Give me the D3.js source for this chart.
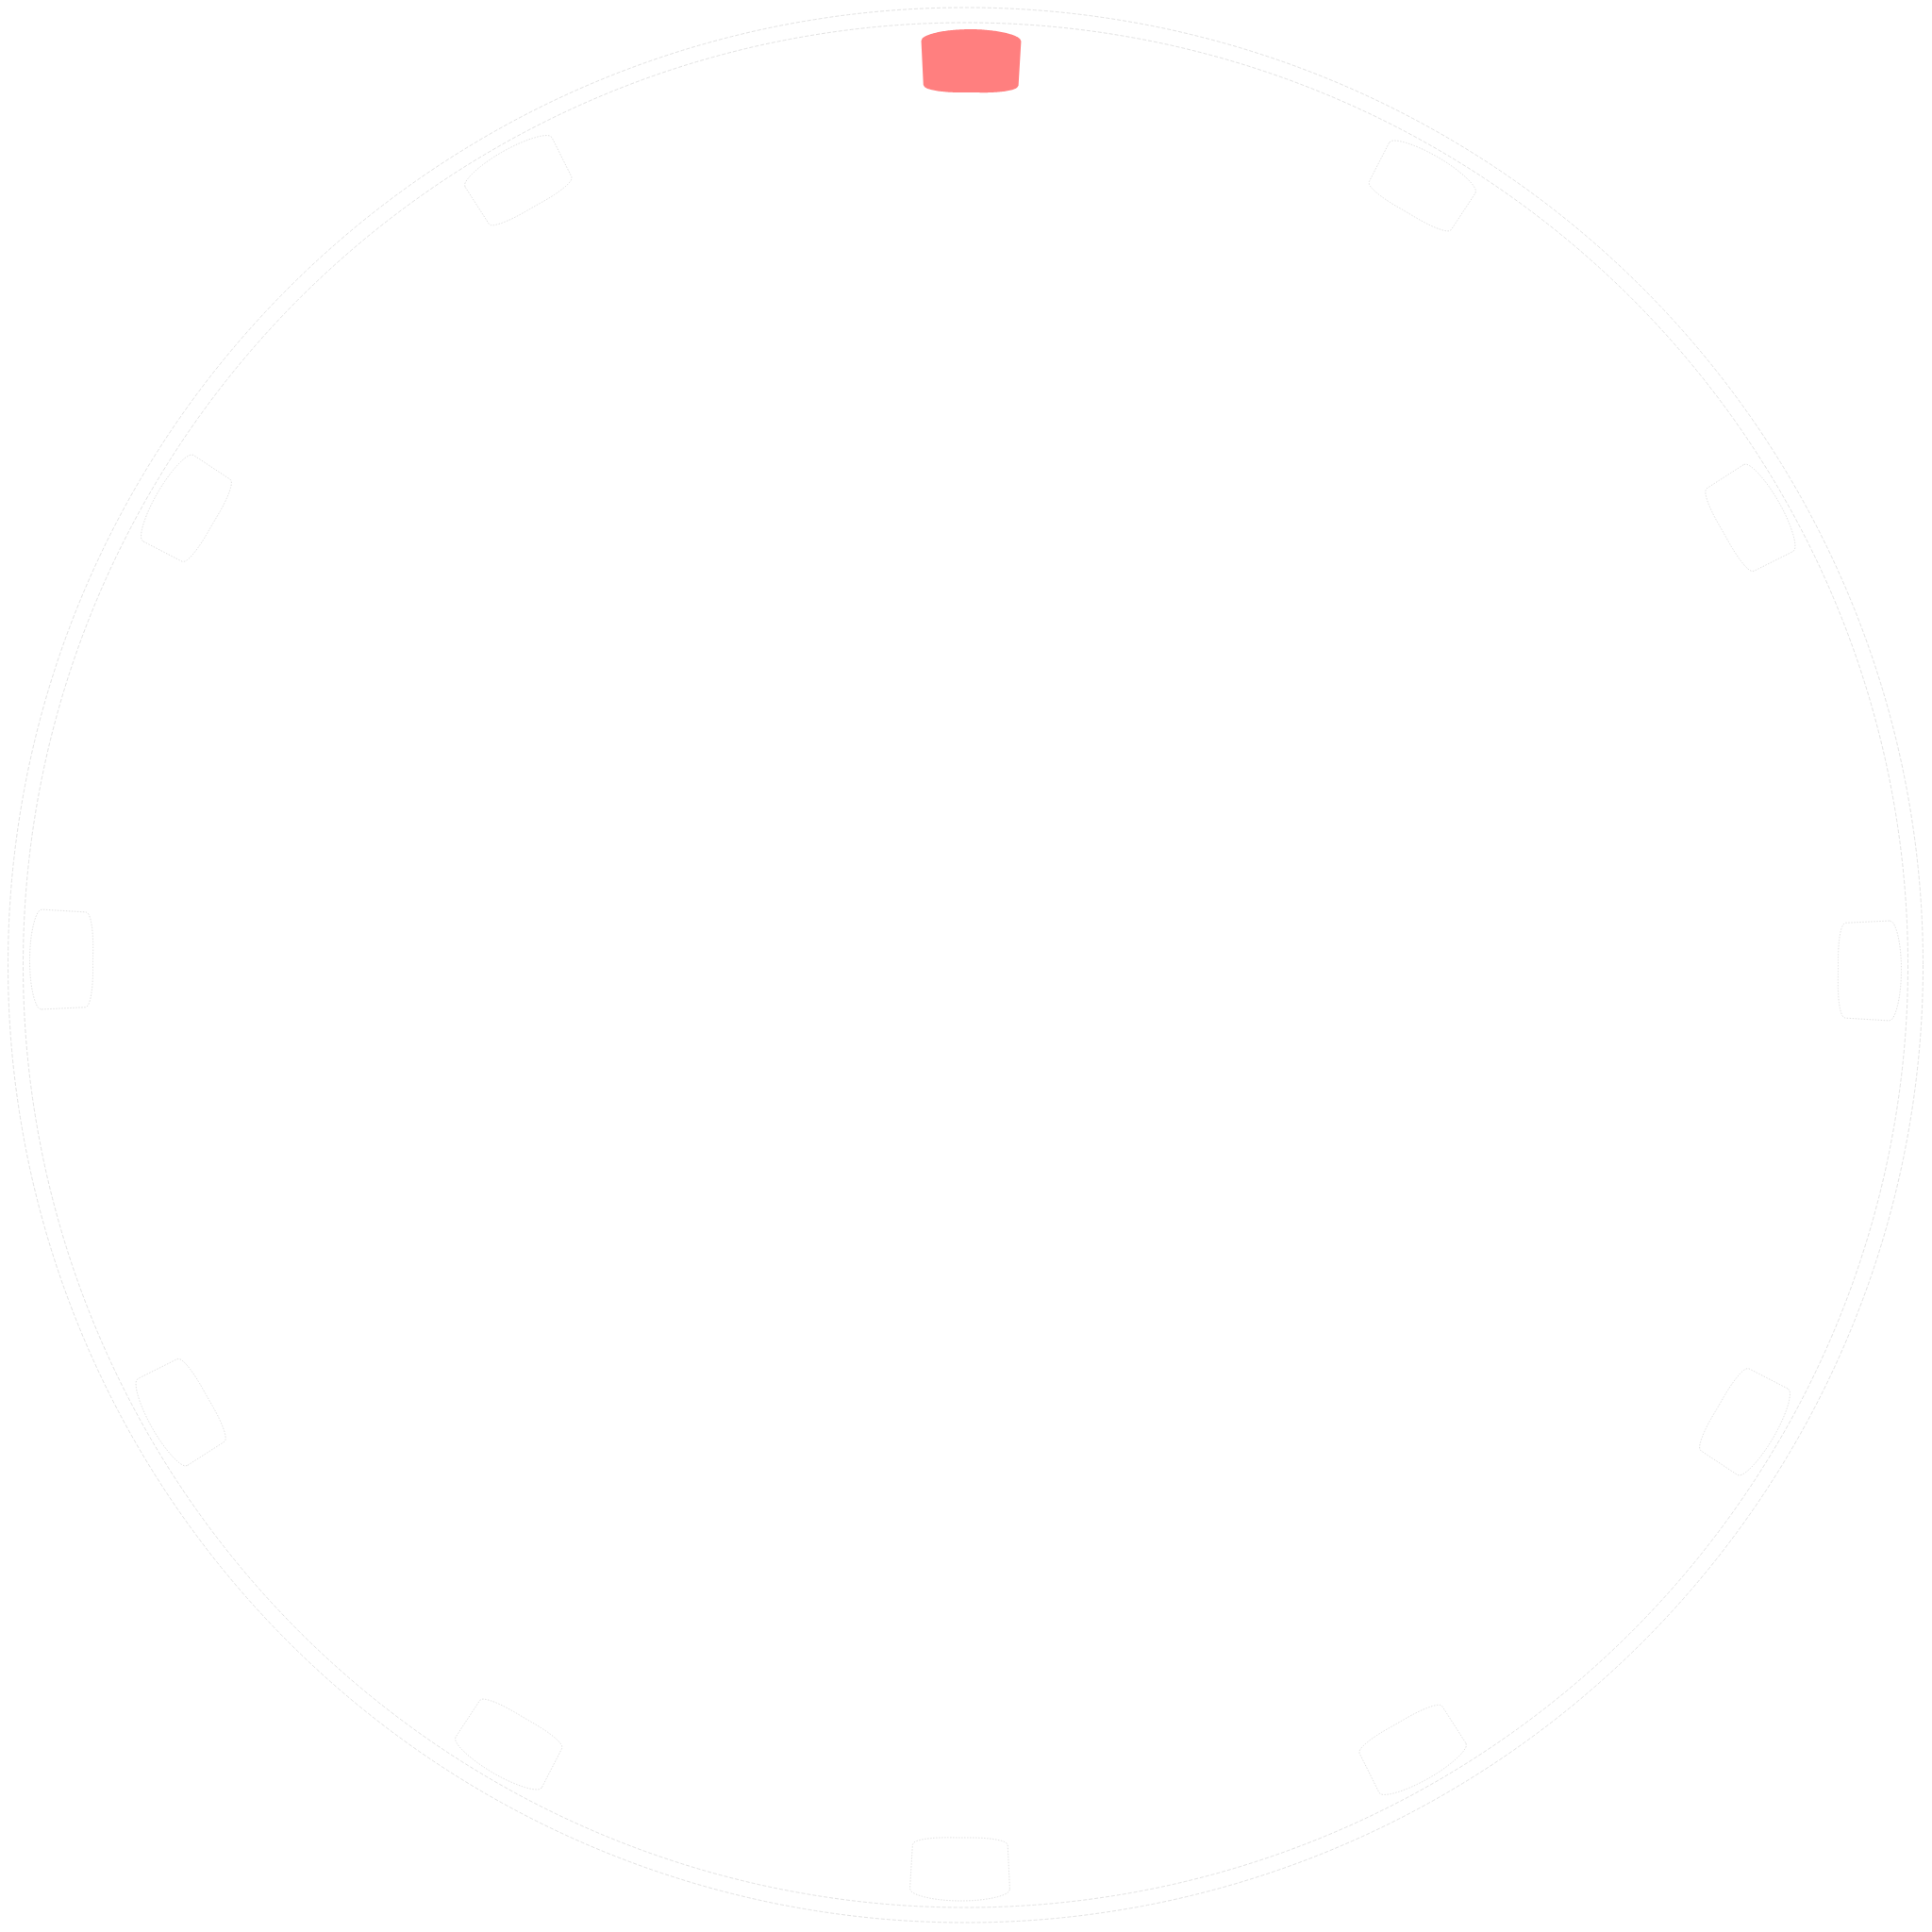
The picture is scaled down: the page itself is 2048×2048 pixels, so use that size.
<!DOCTYPE html>
<html>
<head>
<meta charset="utf-8">
<script src="https://cdn.jsdelivr.net/npm/d3@7"></script>
<style>
  html, body { margin: 0; padding: 0; background: #ffffff; }
  svg { display: block; }
</style>
</head>
<body>
<svg id="chart" width="2048" height="2048"></svg>
<script>
// ---- data ----
const categories = ["1", "2", "3", "4", "5", "6", "7", "8", "9", "10", "11", "12"];
const values = [1, 0, 0, 0, 0, 0, 0, 0, 0, 0, 0, 0];
const ringLevels = [0, 1];

// ---- layout ----
const cx = 1023.5, cy = 1023;
const rotation = 0.35 * Math.PI / 180;

const svg = d3.select("#chart");
const g = svg.append("g").attr("transform", `translate(${cx},${cy})`);

// outer guide circles
const ringScale = d3.scaleLinear().domain([0, 1]).range([999, 1015]);
g.selectAll("circle.ring")
  .data(ringLevels)
  .join("circle")
  .attr("class", "ring")
  .attr("r", d => ringScale(d))
  .attr("fill", "none")
  .attr("stroke", "#e3e3e3")
  .attr("stroke-width", 1)
  .attr("stroke-dasharray", "4,2");

// angular band scale: cell centres at i*30deg
const step = 2 * Math.PI / categories.length;
const pad = 1 - 0.108 / step;
const angle = d3.scaleBand()
  .domain(categories)
  .range([-step / 2 + rotation, 2 * Math.PI - step / 2 + rotation])
  .paddingInner(pad)
  .paddingOuter(pad / 2);

// radial scale: 0 = inner edge, 1 = outer edge of a cell (at its corners)
const radius = d3.scaleLinear().domain([0, 1]).range([934, 981]);
const bulgeOuter = 11, bulgeInner = 9;
const cornerOuter = 1.0, cornerInner = 0.8; // fraction of half-width rounded

const color = d3.scaleLinear().domain([0, 1]).range(["#ffffff", "#ff7f7f"]);

const line = d3.line().curve(d3.curveLinearClosed);

// elliptical-corner profile: 0 at the ends, 1 across the flat middle
function profile(t, w) {
  const u = Math.abs(2 * t - 1);
  if (u <= 1 - w) return 1;
  const q = (u - (1 - w)) / w;
  return Math.sqrt(Math.max(0, 1 - q * q));
}

function cellPoints(cat) {
  const a0 = angle(cat), a1 = a0 + angle.bandwidth();
  const pts = [];
  const nE = 80;
  const pol = (a, r) => [r * Math.sin(a), -r * Math.cos(a)];
  // outer edge, left -> right
  for (let k = 0; k <= nE; k++) {
    const t = k / nE;
    pts.push(pol(a0 + t * (a1 - a0), radius(1) + bulgeOuter * profile(t, cornerOuter)));
  }
  // inner edge, right -> left
  for (let k = 0; k <= nE; k++) {
    const t = k / nE;
    pts.push(pol(a1 - t * (a1 - a0), radius(0) - bulgeInner * profile(t, cornerInner)));
  }
  return pts;
}

const cells = categories.map((c, i) => ({ cat: c, value: values[i] }));

g.selectAll("path.cell")
  .data(cells)
  .join("path")
  .attr("class", "cell")
  .attr("d", d => line(cellPoints(d.cat)))
  .attr("fill", d => color(d.value))
  .attr("stroke", d => d.value > 0 ? "none" : "#e2e2e2")
  .attr("stroke-width", 1)
  .attr("stroke-dasharray", "1.5,1.5");
</script>
</body>
</html>
